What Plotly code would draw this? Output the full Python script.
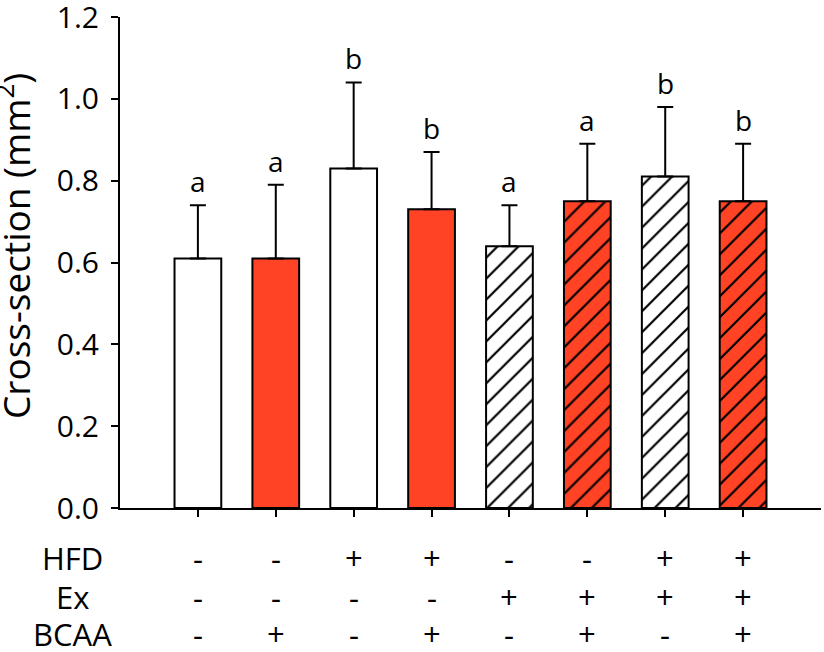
import plotly.graph_objects as go

# ---- data ----
groups = [0, 1, 2, 3, 4, 5, 6, 7]
means = [0.61, 0.61, 0.83, 0.73, 0.64, 0.75, 0.81, 0.75]
sems = [0.13, 0.18, 0.21, 0.14, 0.10, 0.14, 0.17, 0.14]
letters = ["a", "a", "b", "b", "a", "a", "b", "b"]
hfd = ["-", "-", "+", "+", "-", "-", "+", "+"]
ex = ["-", "-", "-", "-", "+", "+", "+", "+"]
bcaa = ["-", "+", "-", "+", "-", "+", "-", "+"]
row_names = ["HFD", "Ex", "BCAA"]
y_ticks = [0.0, 0.2, 0.4, 0.6, 0.8, 1.0, 1.2]

RED = "#FF4324"
FONT = "Open Sans"

W, H = 824, 652
ML, MR, MT, MB = 120, 3, 17, 144
plot_w = W - ML - MR
plot_h = H - MT - MB

fig = go.Figure()

# one trace per bar style: BCAA -> red fill, Ex -> hatching
styles = [("-", "-"), ("+", "-"), ("-", "+"), ("+", "+")]
for b_flag, e_flag in styles:
    idx = [i for i in groups if bcaa[i] == b_flag and ex[i] == e_flag]
    fill = RED if b_flag == "+" else "white"
    shape = "/" if e_flag == "+" else ""
    fig.add_trace(go.Bar(
        x=[groups[i] for i in idx], y=[means[i] for i in idx], width=0.6,
        marker=dict(
            color=fill,
            line=dict(color="black", width=2),
            pattern=dict(shape=shape, fgcolor="black", bgcolor=fill, fgopacity=1,
                         size=14.8, solidity=0.15, fillmode="replace"),
        ),
        error_y=dict(type="data", array=[sems[i] for i in idx],
                     arrayminus=[0] * len(idx), symmetric=False,
                     color="black", thickness=2, width=8),
        showlegend=False,
    ))

annotations = []
for xi, m, s, lt in zip(groups, means, sems, letters):
    annotations.append(dict(x=xi, y=m + s, xref="x", yref="y", text=lt,
                            showarrow=False, yanchor="bottom", yshift=3,
                            font=dict(family=FONT, size=28, color="black")))

# row centres in page pixels
row_pix = [558, 597, 634]
for name, vals, py in zip(row_names, [hfd, ex, bcaa], row_pix):
    yp = (508 - py) / plot_h
    annotations.append(dict(x=(72 - ML) / plot_w, y=yp, xref="paper", yref="paper", text=name,
                            showarrow=False, xanchor="center", yanchor="middle",
                            font=dict(family=FONT, size=31, color="black")))
    for xi, v in zip(groups, vals):
        annotations.append(dict(x=xi, y=yp, xref="x", yref="paper", text=v,
                                showarrow=False, xanchor="center", yanchor="middle",
                                font=dict(family=FONT, size=31, color="black")))

annotations.append(dict(x=(14 - ML) / plot_w, y=(508 - 246) / plot_h, xref="paper", yref="paper",
                        text="Cross-section (mm<sup>2</sup>)", textangle=-90,
                        showarrow=False, xanchor="center", yanchor="middle",
                        font=dict(family=FONT, size=37, color="black")))

fig.update_layout(
    width=W, height=H,
    margin=dict(l=ML, r=MR, t=MT, b=MB, autoexpand=False),
    plot_bgcolor="white", paper_bgcolor="white",
    barmode="overlay",
    font=dict(family=FONT, color="black"),
    annotations=annotations,
    xaxis=dict(range=[-1, 8], tickvals=groups, ticktext=[""] * 8, ticks="outside",
               ticklen=7, tickwidth=2, tickcolor="black", showline=True,
               linecolor="black", linewidth=2, showgrid=False, zeroline=False),
    yaxis=dict(range=[0, 1.2], tickvals=y_ticks, tickformat=".1f", ticks="outside",
               ticklen=7, tickwidth=2, tickcolor="black", showline=True,
               linecolor="black", linewidth=2, showgrid=False, zeroline=False,
               ticklabeloverflow="allow", ticklabelstandoff=6,
               tickfont=dict(family=FONT, size=30, color="black")),
)

fig.write_html("out.html", config={"displayModeBar": False},
               post_script="document.body.style.margin='0px';")
